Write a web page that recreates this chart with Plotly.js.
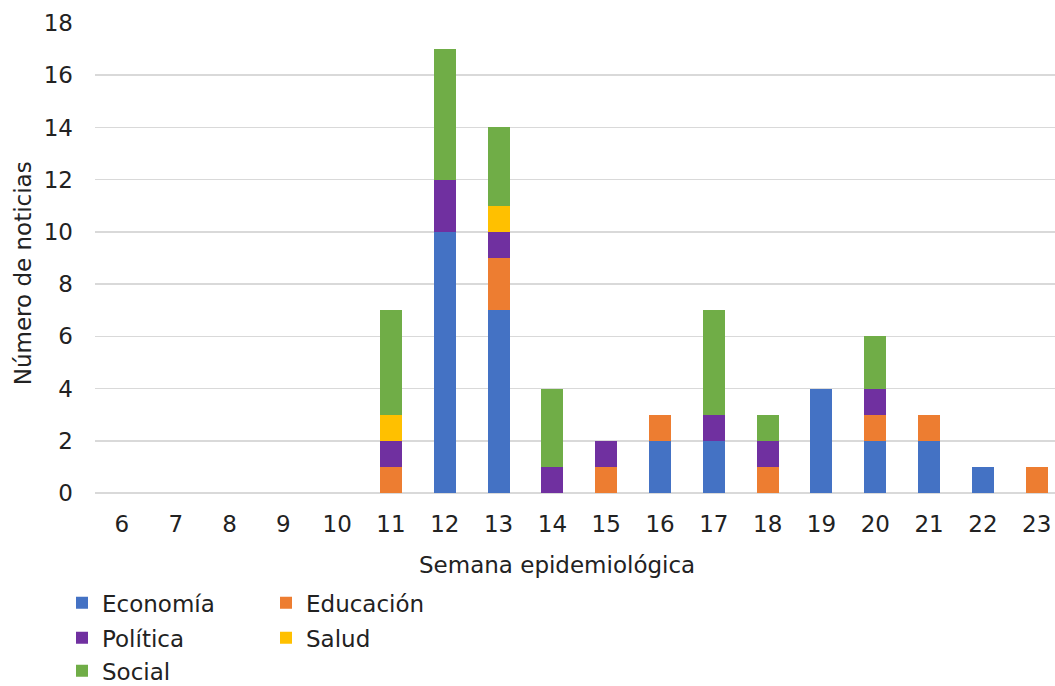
<!DOCTYPE html>
<html>
<head>
<meta charset="utf-8">
<script src="https://cdn.plot.ly/plotly-3.0.1.min.js"></script>
<style>html,body{margin:0;padding:0;background:#fff;}#chart{width:1055px;height:686px;}</style>
</head>
<body>
<div id="chart"></div>
<script>
const semanas = [6,7,8,9,10,11,12,13,14,15,16,17,18,19,20,21,22,23];
const economia  = [0,0,0,0,0,0,10,7,0,0,2,2,0,4,2,2,1,0];
const educacion = [0,0,0,0,0,1,0,2,0,1,1,0,1,0,1,1,0,1];
const politica  = [0,0,0,0,0,1,2,1,1,1,0,1,1,0,1,0,0,0];
const salud     = [0,0,0,0,0,1,0,1,0,0,0,0,0,0,0,0,0,0];
const social    = [0,0,0,0,0,4,5,3,3,0,0,4,1,0,2,0,0,0];
const yTicks = [0,2,4,6,8,10,12,14,16,18];

const FONT = 'DejaVu Sans, Verdana, sans-serif';
const FS = 23;
const TXT = '#222222';
const series = [
  {name:'Economía', y:economia, color:'#4472C4', legend:'legend'},
  {name:'Educación', y:educacion, color:'#ED7D31', legend:'legend2'},
  {name:'Política', y:politica, color:'#7030A0', legend:'legend3'},
  {name:'Salud', y:salud, color:'#FFC000', legend:'legend4'},
  {name:'Social', y:social, color:'#70AD47', legend:'legend5'}
];
const data = series.map(s => ({
  type:'bar', x:semanas, y:s.y, name:s.name, legend:s.legend,
  marker:{color:s.color, line:{width:0}}, width:0.41, hoverinfo:'x+y+name'
}));

const H = 470.5;
function py(p){ return (493 - p)/H; }
function px(p){ return (p - 95)/960; }
const legBase = {bgcolor:'rgba(0,0,0,0)', font:{family:FONT,size:FS,color:TXT}, xanchor:'left', yanchor:'middle', orientation:'v'};
const layout = {
  width:1055, height:686,
  margin:{l:95, r:0, t:22.5, b:193, autoexpand:false},
  paper_bgcolor:'#fff', plot_bgcolor:'#fff',
  barmode:'stack',
  font:{family:FONT, size:FS, color:TXT},
  xaxis:{
    range:[5.5, 23.34], tickvals:semanas, ticktext:semanas.map(String),
    showgrid:false, zeroline:false, showline:false, ticks:'',
    ticklabelstandoff:15, automargin:false,
    tickfont:{family:FONT,size:FS,color:TXT}
  },
  yaxis:{
    range:[0,18], tickvals:yTicks, showgrid:true, gridcolor:'#d9d9d9', gridwidth:1.5,
    zeroline:true, zerolinecolor:'#d9d9d9', zerolinewidth:1.5, showline:false, ticks:'',
    ticklabelstandoff:21, automargin:false,
    tickfont:{family:FONT,size:FS,color:TXT}
  },
  annotations:[
    {text:'Semana epidemiológica', xref:'paper', yref:'paper', x:px(557), y:py(565),
     xanchor:'center', yanchor:'middle', showarrow:false, font:{family:FONT,size:FS,color:TXT}},
    {text:'Número de noticias', xref:'paper', yref:'paper', x:px(23), y:py(273), textangle:-90,
     xanchor:'center', yanchor:'middle', showarrow:false, font:{family:FONT,size:FS,color:TXT}}
  ],
  showlegend:true,
  legend: Object.assign({}, legBase, {x:px(62), y:py(603)}),
  legend2: Object.assign({}, legBase, {x:px(266), y:py(603)}),
  legend3: Object.assign({}, legBase, {x:px(62), y:py(638)}),
  legend4: Object.assign({}, legBase, {x:px(266), y:py(638)}),
  legend5: Object.assign({}, legBase, {x:px(62), y:py(671)})
};
Plotly.newPlot('chart', data, layout, {displayModeBar:false, staticPlot:true});
</script>
</body>
</html>
